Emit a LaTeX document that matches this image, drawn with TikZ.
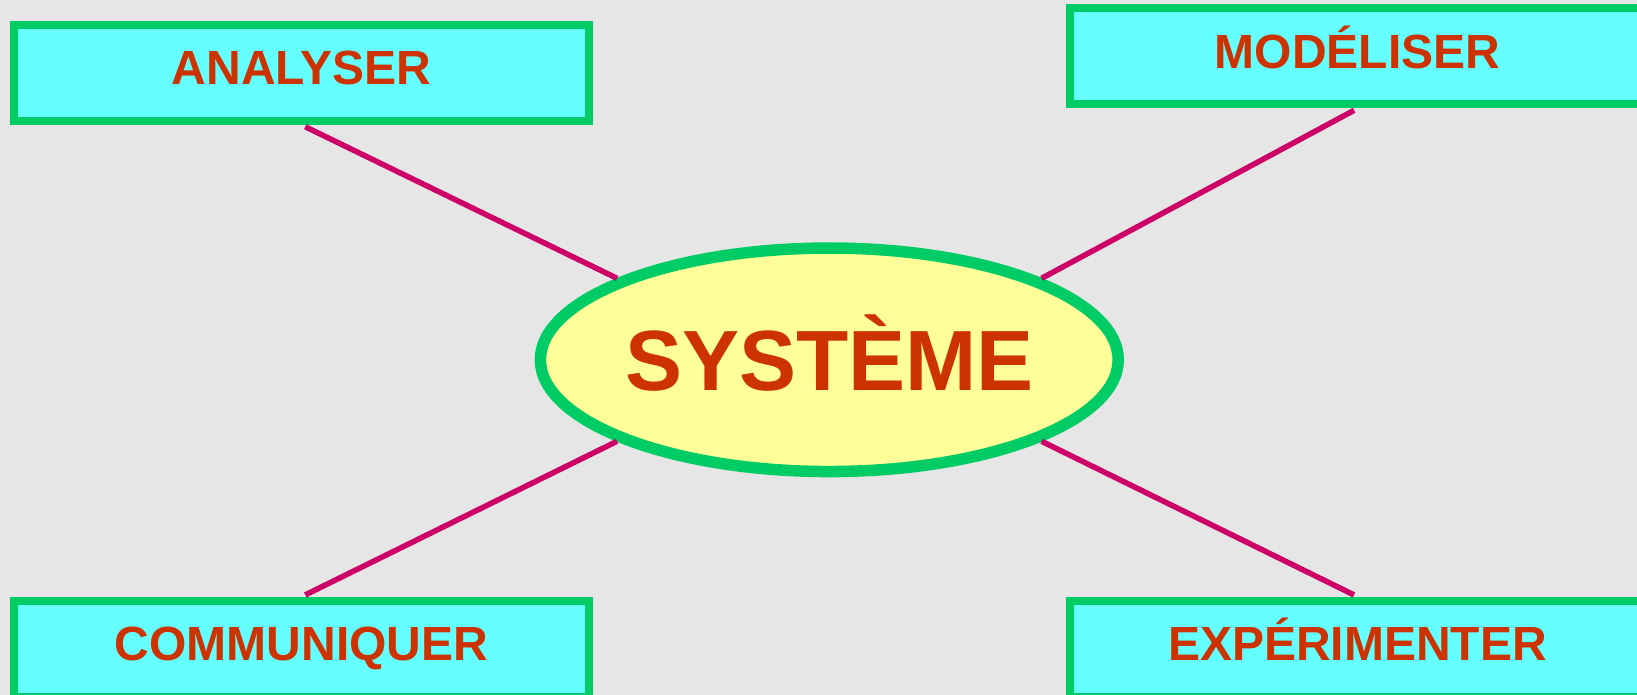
\documentclass[tikz,border=0pt]{standalone}
\usepackage{fontspec}
\setmainfont{Liberation Sans}
\usepackage{xcolor}
\usetikzlibrary{shapes.geometric}
\definecolor{fondgris}{HTML}{E6E6E6}
\definecolor{boitecyan}{HTML}{66FFFF}
\definecolor{bordvert}{HTML}{00CC66}
\definecolor{texterouge}{HTML}{CC3300}
\definecolor{jaunesys}{HTML}{FFFF99}
\definecolor{lienrose}{HTML}{CC0066}

\begin{document}
\begin{tikzpicture}[x=1pt,y=-1pt,
	action/.style={draw=bordvert,fill=boitecyan,line width=8pt,inner sep=0pt,
		minimum width=575.3pt,minimum height=96.3pt,text=texterouge,
		font=\fontsize{48}{50}\selectfont\bfseries,text height=34pt,text depth=10pt},
	noyau/.style={ellipse,draw=bordvert,fill=jaunesys,line width=11.5pt,inner sep=0pt,
		minimum width=575.2pt,minimum height=223.5pt,text=texterouge,
		font=\fontsize{85.5}{90}\selectfont\bfseries,text height=61pt,text depth=0pt},
	lien/.style={draw=lienrose,line width=5.5pt,shorten <=4pt}]
\clip (0,0) rectangle (1637,695);
\fill[fondgris] (0,0) rectangle (1637,695);

\node[noyau] (sys) at (829.3,359.8) {SYSTÈME};
\node[action] (analyser) at (301.65,72.85) {ANALYSER};
\node[action] (modeliser) at (1357.6,56.3) {MODÉLISER};
\node[action] (communiquer) at (301.65,648.85) {COMMUNIQUER};
\node[action] (experimenter) at (1357.6,648.85) {EXPÉRIMENTER};

\draw[lien] (analyser.south) -- (sys.159);
\draw[lien] (modeliser.south) -- (sys.21);
\draw[lien] (communiquer.north) -- (sys.201);
\draw[lien] (experimenter.north) -- (sys.339);
\end{tikzpicture}
\end{document}
